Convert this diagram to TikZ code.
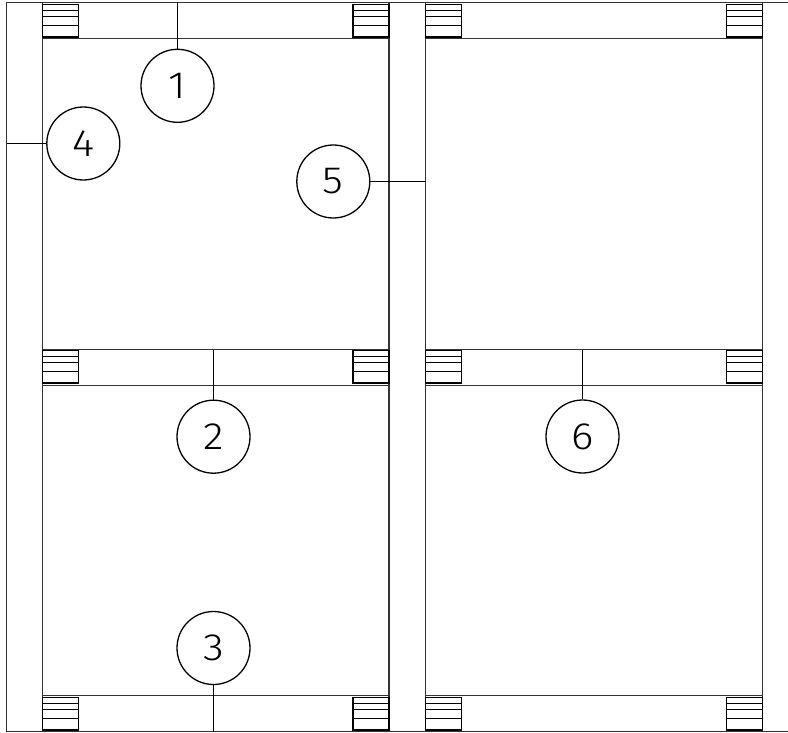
\documentclass[tikz,border=0pt]{standalone}
\usepackage{fontspec}
\setmainfont{Fira Sans}[UprightFont=* Light, FakeStretch=1.12]
\tikzset{
  wall/.style={draw=black!80, line width=1.2pt},
  slat/.style={draw=black, line width=1.5pt},
  leader/.style={draw=black, line width=1.3pt},
  callout/.style={circle, draw=black, line width=1.3pt, minimum size=73pt, inner sep=0pt, font=\fontsize{38}{38}\selectfont}
}
\newcommand{\slats}[2]{%
  \begin{scope}[shift={(#1,#2)}]
    \draw[slat] (0,0) rectangle (36,33);
    \draw[slat] (0,6) -- (36,6);
    \draw[slat] (0,12) -- (36,12);
    \draw[slat] (0,21) -- (36,21);
    \draw[slat] (0,32) -- (36,32);
  \end{scope}}
\begin{document}
\begin{tikzpicture}[x=1pt,y=-1pt]
\useasboundingbox (0,0) rectangle (788,733);
% walls
\draw[wall] (788,2.5) -- (6.5,2.5) -- (6.5,731.5) -- (788,731.5);
\draw[wall] (42.5,2.5) -- (42.5,731.5);
\draw[wall] (389,2.5) -- (389,731.5);
\draw[wall] (425.5,2.5) -- (425.5,731.5);
\draw[wall] (762.5,2.5) -- (762.5,731.5);
\foreach \y in {38.5,349.5,385.5,695.5}{
  \draw[wall] (42.5,\y) -- (389,\y);
  \draw[wall] (425.5,\y) -- (762.5,\y);
}
% slat boxes
\foreach \y in {4.5,350.5,697.5}{
  \slats{42.5}{\y}
  \slats{353}{\y}
  \slats{425.5}{\y}
  \slats{726.5}{\y}
}
% callouts
\node[callout] (c1) at (177.5,85.8) {1};
\node[callout] (c2) at (213.5,436.7) {2};
\node[callout] (c3) at (213.5,648) {3};
\node[callout] (c4) at (83.3,143.5) {4};
\node[callout] (c5) at (333.3,181.5) {5};
\node[callout] (c6) at (582.5,436.5) {6};
\coordinate (e1) at (177.5,2.5);
\coordinate (e2) at (213.5,349.5);
\coordinate (e3) at (213.5,731.5);
\coordinate (e4) at (6.5,143.5);
\coordinate (e5) at (425.5,181.5);
\coordinate (e6) at (582.5,349.5);
\draw[leader] (e1) -- (c1);
\draw[leader] (e2) -- (c2);
\draw[leader] (e3) -- (c3);
\draw[leader] (e4) -- (c4);
\draw[leader] (e5) -- (c5);
\draw[leader] (e6) -- (c6);
\end{tikzpicture}
\end{document}
